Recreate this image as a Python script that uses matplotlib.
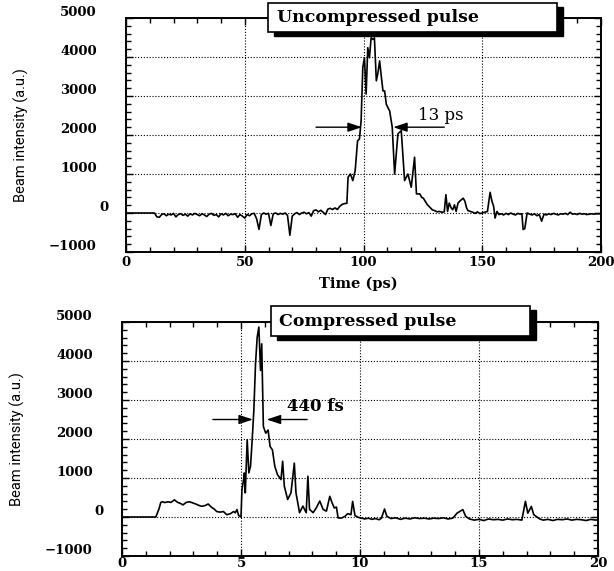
import matplotlib
matplotlib.use("Agg")
import matplotlib.pyplot as plt
from matplotlib.patches import Rectangle
from matplotlib.ticker import MultipleLocator
from matplotlib.transforms import ScaledTranslation

# -----------------------------
# Data
# -----------------------------

# uncompressed pulse, time in ps
t_unc = [0, 12, 13, 14, 15, 16, 17, 18, 19, 20, 21, 22, 23, 24, 25, 26, 27, 28, 29,
         30, 31, 32, 33, 34, 35, 36, 37, 38, 39, 40, 41, 42, 43, 44, 45, 46, 47, 48,
         49, 50, 51, 52, 53, 54, 55, 56, 57, 58, 59, 60, 61, 62, 63, 64, 65, 66, 67,
         68, 69, 70, 71, 72, 73, 74, 75, 76, 77, 78, 79, 80, 81, 82, 83, 84, 85, 86,
         87, 88, 89, 90, 91, 92, 93, 93.5, 94.5, 95.5, 96.5, 97.5, 98.3, 99, 99.7,
         100.4, 101.1, 101.8, 102.5, 103.2, 104, 104.6, 105.4, 106.1, 106.8, 107.5,
         108.2, 108.9, 109.6, 110.3, 111, 111.6, 112.1, 113.1, 114.5, 115.9, 117.3,
         118.7, 120.1, 121.5, 122.3, 123.7, 124.5, 125.2, 126, 126.8, 127.6, 128.4,
         129, 130, 131, 132, 133, 134, 134.7, 135.4, 136.1, 137, 137.6, 138.3, 139,
         139.8, 140.5, 141.2, 142, 142.7, 143.4, 144, 145, 146, 147, 148, 149, 150,
         151, 152.2, 153.3, 154.1, 154.8, 155.4, 156.2, 157, 158, 159, 160, 161, 162,
         163, 164, 165, 166, 166.7, 167.2, 167.9, 168.9, 170, 171, 172, 173, 174, 175,
         176, 177, 178, 179, 180, 181, 182, 183, 184, 185, 186, 187, 188, 189, 190,
         191, 192, 193, 194, 195, 196, 197, 198, 200]
i_unc = [0, 0, -100, -110, -40, -20, -70, -30, -50, -10, -100, -40, -20, -60, -30,
         -80, -20, -50, -10, -40, -70, -20, -50, -90, -30, -10, -60, -40, -100, -20,
         -50, -10, -70, -30, -40, -20, -110, -40, -80, -130, -40, -70, -20, -10, -150,
         -420, -40, 0, -30, -10, -320, -20, 0, -40, -10, -30, 0, -60, -570, -80,
         -20, 10, -40, 0, 20, -20, 10, -80, 60, 80, 30, 70, 20, -40, 100, 120, 90,
         130, 90, 170, 220, 240, 250, 920, 1000, 830, 1090, 1850, 1900, 2370, 3730,
         3980, 3050, 4240, 3980, 4490, 4450, 4490, 3390, 3600, 3900, 3500, 3130, 3130,
         2790, 2700, 2620, 2400, 2200, 1000, 2030, 2110, 830, 1000, 660, 1430, 490, 490,
         400, 380, 300, 220, 170, 120, 80, 60, 30, 40, 20, 30, 470, 40, 255, 120, 85,
         210, 40, 255, 300, 340, 380, 300, 130, 60, 40, 20, -10, 30, -15, 0, 20, 40, 530,
         300, 170, -130, 40, -40, -20, -50, -10, -40, 0, -30, -50, -10, -30, -20, -425,
         -400, 0, -30, -50, -20, -70, -40, -210, -30, -50, -20, -40, -10, -30, -50, -20,
         -30, -10, -40, 20, -30, -20, -40, -10, -30, -20, -40, -30, -20, -30, -20, -20]

# compressed pulse, time axis 0-20
t_cmp = [0, 1.42, 1.55, 1.63, 1.7, 1.8, 1.92, 2.06, 2.2, 2.34, 2.45, 2.56, 2.7, 2.84,
         2.98, 3.1, 3.22, 3.34, 3.48, 3.62, 3.76, 3.88, 3.98, 4.12, 4.26, 4.4, 4.55,
         4.69, 4.76, 4.83, 4.9, 5.0, 5.04, 5.11, 5.14, 5.18, 5.26, 5.33, 5.4, 5.47,
         5.54, 5.61, 5.68, 5.75, 5.82, 5.87, 5.94, 6.04, 6.14, 6.22, 6.32, 6.42, 6.53,
         6.68, 6.75, 6.82, 6.96, 7.1, 7.24, 7.31, 7.46, 7.6, 7.74, 7.81, 7.88, 8.03,
         8.17, 8.31, 8.45, 8.59, 8.73, 8.83, 8.92, 9.01, 9.08, 9.23, 9.37, 9.48, 9.62,
         9.69, 9.79, 9.93, 10.07, 10.2, 10.35, 10.5, 10.65, 10.8, 10.9, 11.03, 11.13,
         11.3, 11.5, 11.7, 11.9, 12.1, 12.3, 12.5, 12.7, 12.9, 13.1, 13.3, 13.5, 13.7,
         13.9, 14.08, 14.2, 14.32, 14.44, 14.6, 14.8, 15.0, 15.2, 15.4, 15.6, 15.8,
         16.0, 16.2, 16.4, 16.6, 16.8, 16.95, 17.05, 17.2, 17.3, 17.4, 17.55, 17.7,
         17.9, 18.1, 18.3, 18.5, 18.7, 18.9, 19.1, 19.3, 19.5, 19.7, 19.9, 20]
i_cmp = [0, 0, 200, 375, 390, 370, 390, 375, 440, 375, 350, 310, 375, 390, 360,
         333, 300, 275, 290, 333, 250, 200, 140, 125, 140, 60, 83, 140, 108, 190, 40,
         0, 700, 960, 1130, 620, 1980, 1130, 1300, 1980, 2740, 3930, 4610, 4870, 3760,
         4440, 2320, 2150, 2230, 1810, 1720, 1300, 1090, 960, 1430, 790, 450, 620, 1380,
         620, 110, 280, 110, 1045, 195, 110, 240, 410, 195, 150, 530, 360, 230, 255,
         -25, -25, 17, 85, 60, 400, 35, -10, -30, -50, -30, -60, -40, -70, -30, 205, 17,
         -40, -20, -60, -30, -50, -20, -40, -30, -50, -30, -40, -20, -50, -30, 100, 145,
         190, 17, -50, -80, -60, -90, -50, -70, -60, -80, -50, -70, -60, -80, 400, 100,
         270, 60, 17, -50, -80, -60, -90, -60, -70, -50, -80, -60, -70, -90, -60, -80,
         -70]

y_ticks = [-1000, 0, 1000, 2000, 3000, 4000, 5000]
y_labels = ["\u22121000", "0", "1000", "2000", "3000", "4000", "5000"]

W, H = 614, 571
fig = plt.figure(figsize=(W / 100, H / 100), dpi=100)


def frac(x0, y0, x1, y1):
    # pixel box (top-left origin) -> figure fraction rect
    return [x0 / W, 1 - y1 / H, (x1 - x0) / W, (y1 - y0) / H]


def style_axes(ax, xmax, xmajor, xminor, y0shift, xpad):
    ax.set_xlim(0, xmax)
    ax.set_ylim(-1000, 5000)
    ax.xaxis.set_major_locator(MultipleLocator(xmajor))
    ax.xaxis.set_minor_locator(MultipleLocator(xminor))
    ax.set_yticks(y_ticks)
    ax.yaxis.set_minor_locator(MultipleLocator(200))
    ax.set_yticklabels(y_labels)
    ax.tick_params(which="both", direction="in", top=True, right=True, width=1)
    ax.tick_params(which="major", length=5)
    ax.tick_params(which="minor", length=3.5)
    ax.tick_params(axis="y", pad=21)
    ax.tick_params(axis="x", pad=xpad)
    ax.grid(True, which="major", color="black", linestyle=(0, (1, 1.6)), linewidth=0.8)
    for sp in ax.spines.values():
        sp.set_linewidth(1.4)
    for lab in ax.get_xticklabels() + ax.get_yticklabels():
        lab.set_family("DejaVu Serif")
        lab.set_weight("bold")
        lab.set_fontsize(9.5)
    # labels sit a little above their grid lines in the original
    for lab in ax.get_yticklabels():
        dx = y0shift / 100 if lab.get_text() == "0" else 0
        lab.set_transform(lab.get_transform() + ScaledTranslation(dx, 7 / 100, fig.dpi_scale_trans))
    ax.set_ylabel("Beam intensity (a.u.)", family=["Roboto", "DejaVu Sans"], fontsize=10.5)


# -----------------------------
# Top panel: uncompressed pulse
# -----------------------------
ax1 = fig.add_axes(frac(126, 18, 601, 252))
ax1.plot(t_unc, i_unc, color="black", linewidth=1.2)
style_axes(ax1, 200, 50, 10, 12, 3)
ax1.yaxis.set_label_coords(-0.205, 0.5)
ax1.set_xlabel("Time (ps)", family="DejaVu Serif", fontweight="bold", fontsize=10.5)
ax1.xaxis.set_label_coords(0.49, -0.105)

arrow = dict(arrowstyle="-|>,head_length=0.6,head_width=0.2", color="black",
             linewidth=1, mutation_scale=14, shrinkA=0, shrinkB=0)
ax1.annotate("", xy=(99.3, 2200), xytext=(80, 2200), arrowprops=arrow)
ax1.annotate("", xy=(112.5, 2200), xytext=(134, 2200), arrowprops=arrow)
ax1.text(123, 2500, "13 ps", family="DejaVu Serif", fontsize=12, va="center", ha="left")

# -----------------------------
# Bottom panel: compressed pulse
# -----------------------------
ax2 = fig.add_axes(frac(122, 322, 598, 556))
ax2.plot(t_cmp, i_cmp, color="black", linewidth=1.2)
style_axes(ax2, 20, 5, 1, 11, 1)
ax2.yaxis.set_label_coords(-0.203, 0.5)

ax2.annotate("", xy=(5.5, 2500), xytext=(3.82, 2500), arrowprops=arrow)
ax2.annotate("", xy=(6.08, 2500), xytext=(7.78, 2500), arrowprops=arrow)
ax2.text(6.95, 2830, "440 fs", family="DejaVu Serif", fontweight="bold", fontsize=12,
         va="center", ha="left")

# -----------------------------
# Title boxes with drop shadow
# -----------------------------
boxes = [((268, 3, 557, 32), "Uncompressed pulse", 277),
         ((271, 306, 530, 336), "Compressed pulse", 279)]
for (x0, y0, x1, y1), title, tx in boxes:
    r = frac(x0 + 6, y0 + 4, x1 + 6, y1 + 4)
    fig.add_artist(Rectangle((r[0], r[1]), r[2], r[3], transform=fig.transFigure,
                             facecolor="black", edgecolor="black", zorder=5))
    r = frac(x0, y0, x1, y1)
    fig.add_artist(Rectangle((r[0], r[1]), r[2], r[3], transform=fig.transFigure,
                             facecolor="white", edgecolor="black", linewidth=1.2, zorder=6))
    fig.text(tx / W, 1 - (y0 + y1) / 2 / H, title, family="DejaVu Serif", fontweight="bold",
             fontsize=12.5, va="center", ha="left", zorder=7)

fig.savefig("out.png", dpi=100)
